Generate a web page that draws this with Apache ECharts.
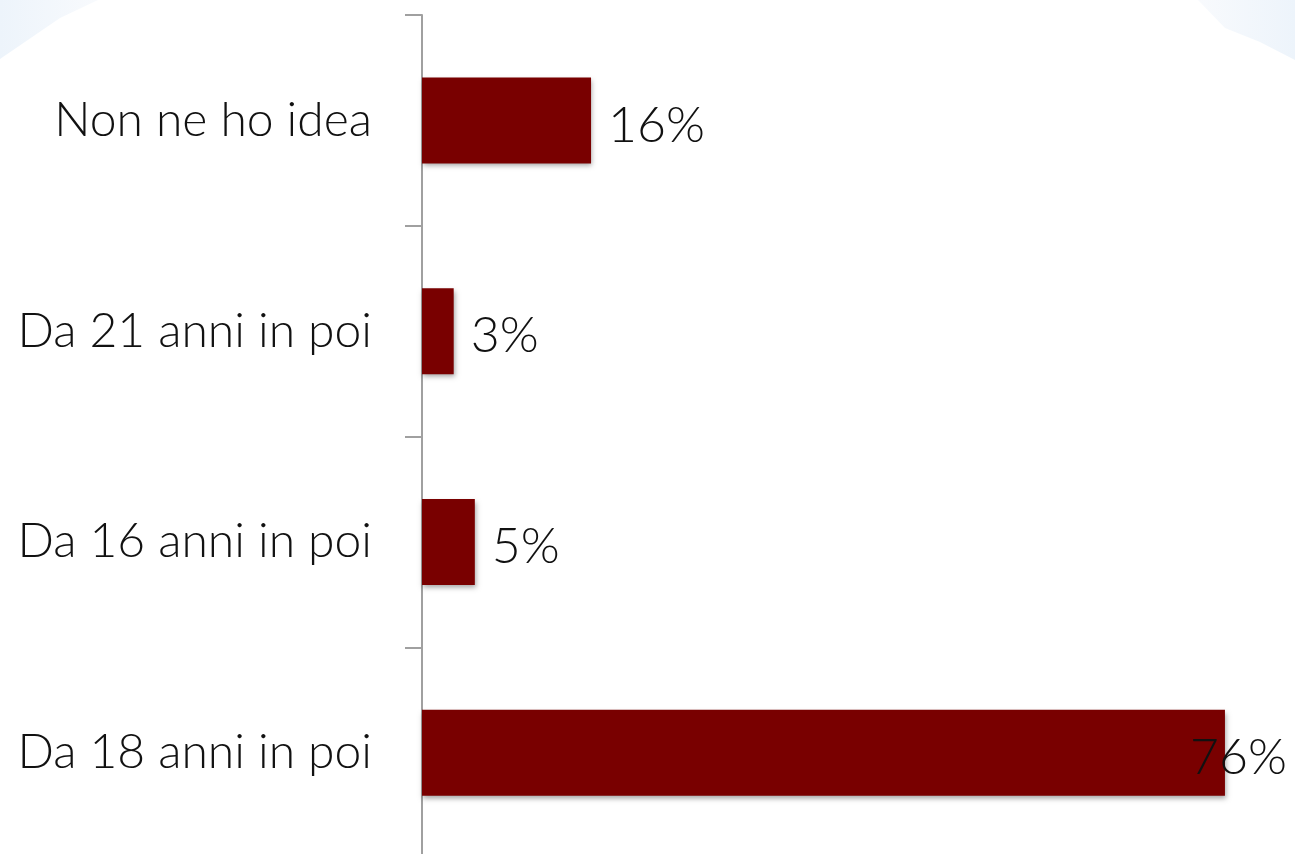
<!DOCTYPE html>
<html>
<head>
<meta charset="utf-8">
<script src="https://cdn.jsdelivr.net/npm/echarts@6/dist/echarts.min.js"></script>
<style>
html,body{margin:0;padding:0;background:#fff;overflow:hidden;}
#chart{width:1295px;height:862px;}
</style>
</head>
<body>
<div id="chart"></div>
<script>
const categories = ['Da 18 anni in poi', 'Da 16 anni in poi', 'Da 21 anni in poi', 'Non ne ho idea'];
const values = [76, 5, 3, 16];
const labelSuffix = '%';

const chart = echarts.init(document.getElementById('chart'));
const FONT = 'Lato';
const maxVal = Math.max(...values);
const data = values.map((v) => {
  const item = { value: v };
  if (v === maxVal) {
    item.label = { offset: [-52, 5] };
  }
  return item;
});
chart.setOption({
  animation: false,
  backgroundColor: '#ffffff',
  graphic: [
    {
      type: 'polygon', silent: true, z: -10,
      shape: { points: [[0,0],[98,0],[60,18],[0,59]] },
      style: { fill: new echarts.graphic.LinearGradient(0,0,1,0,[{offset:0,color:'#edf4fb'},{offset:1,color:'#f8fafd'}]) }
    },
    {
      type: 'polygon', silent: true, z: -10,
      shape: { points: [[1198,0],[1295,0],[1295,60],[1260,42],[1225,28]] },
      style: { fill: new echarts.graphic.LinearGradient(0,0,1,0,[{offset:0,color:'#f8fafd'},{offset:1,color:'#edf4fb'}]) }
    }
  ],
  grid: { left: 422, top: 15, height: 843, right: 0, containLabel: false },
  xAxis: {
    type: 'value', min: 0, max: 82.63, show: false
  },
  yAxis: {
    type: 'category',
    data: categories,
    axisLine: { show: true, lineStyle: { color: '#a0a0a0', width: 2 } },
    axisTick: { show: true, length: 17, lineStyle: { color: '#a0a0a0', width: 2 } },
    axisLabel: { margin: 50, color: '#111', fontFamily: FONT, fontWeight: 300, fontSize: 48, padding: [4,0,0,0] },
    splitLine: { show: false }
  },
  series: [{
    type: 'bar',
    data: data,
    barWidth: 86,
    itemStyle: {
      color: '#790000',
      shadowColor: 'rgba(0,0,0,0.35)',
      shadowBlur: 5,
      shadowOffsetX: 1,
      shadowOffsetY: 3
    },
    label: {
      show: true, position: 'right', distance: 17, offset: [0, 5],
      formatter: p => p.value + labelSuffix,
      color: '#111', fontFamily: FONT, fontWeight: 300, fontSize: 50
    }
  }]
});
</script>
</body>
</html>
